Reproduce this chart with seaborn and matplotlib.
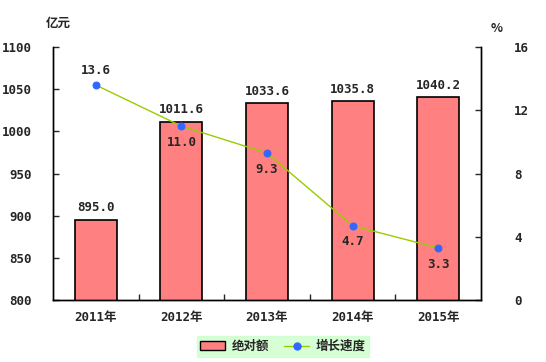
import numpy as np
import pandas as pd
import seaborn as sns
import matplotlib.pyplot as plt
from matplotlib.patches import Patch
from matplotlib.lines import Line2D

years = ['2011年', '2012年', '2013年', '2014年', '2015年']
amount = [895.0, 1011.6, 1033.6, 1035.8, 1040.2]
growth = [13.6, 11.0, 9.3, 4.7, 3.3]

sns.set_style('white')
# monospace digits like the original, CJK falls back to Noto
plt.rcParams['font.family'] = ['DejaVu Sans Mono', 'Noto Sans CJK SC']
plt.rcParams['font.weight'] = 'bold'

df = pd.DataFrame({'year': years, 'amount': amount, 'growth': growth})
pos = np.arange(len(years))

fig = plt.figure(figsize=(5.46, 3.62), dpi=100)
ax = fig.add_axes([0.097, 0.171, 0.784, 0.699])

sns.barplot(data=df, x='year', y='amount', color='#ff8080', width=0.49,
            edgecolor='black', linewidth=1.2, saturation=1, ax=ax)
ax.set_ylim(800, 1100)
ax.set_yticks(range(800, 1101, 50))
ax.set_xlim(-0.5, len(years) - 0.5)
ax.set_xlabel('')
ax.set_ylabel('')
for x, v in zip(pos, amount):
    ax.annotate(f'{v:.1f}', (x, v), xytext=(0, 4), textcoords='offset points',
                ha='center', va='bottom', fontsize=9, fontweight='bold')

ax2 = ax.twinx()
sns.lineplot(x=pos, y=growth, color='#99cc00', linewidth=1, marker='o',
             markersize=5, markerfacecolor='#3366ff', markeredgecolor='#3366ff',
             ax=ax2)
ax2.set_ylim(0, 16)
ax2.set_yticks(range(0, 17, 4))
for i, (x, v) in enumerate(zip(pos, growth)):
    dy = 6 if i == 0 else -7
    ax2.annotate(f'{v:.1f}', (x, v), xytext=(0, dy), textcoords='offset points',
                 ha='center', va='bottom' if i == 0 else 'top',
                 fontsize=9, fontweight='bold')

for a in (ax, ax2):
    a.spines['top'].set_visible(False)
    for s in ('left', 'right', 'bottom'):
        a.spines[s].set_color('black')
        a.spines[s].set_linewidth(1)
ax.spines['right'].set_visible(True)

ax.tick_params(axis='y', direction='in', length=4, width=1, labelsize=9, left=True, pad=15)
ax2.tick_params(axis='y', direction='in', length=4, width=1, labelsize=9, right=True, pad=24)
ax.set_xticks(pos)
ax.set_xticklabels(years, fontsize=9, fontweight='bold')
ax.tick_params(axis='x', length=0, pad=8)
ax.set_xticks(pos[:-1] + 0.5, minor=True)
ax.tick_params(axis='x', which='minor', direction='in', length=4, width=1, bottom=True)
for lab in ax.get_yticklabels() + ax2.get_yticklabels():
    lab.set_fontweight('bold')

fig.text(0.106, 0.935, '亿元', fontsize=9, fontweight='bold', ha='center', va='center')
fig.text(0.91, 0.922, '%', fontsize=9, fontweight='bold', ha='center', va='center',
         family=['Noto Sans CJK SC', 'DejaVu Sans'])

handles = [Patch(facecolor='#ff8080', edgecolor='black', linewidth=1),
           Line2D([0], [0], color='#99cc00', linewidth=1, marker='o', markersize=5,
                  markerfacecolor='#3366ff', markeredgecolor='#3366ff')]
leg = fig.legend(handles, ['绝对额', '增长速度'], loc='center', bbox_to_anchor=(0.518, 0.043),
                 ncol=2, frameon=True, fancybox=False, fontsize=9, handlelength=2,
                 columnspacing=1.2, borderpad=0.3, handletextpad=0.5)
leg.get_frame().set_facecolor('#ccffcc')
leg.get_frame().set_edgecolor('#ccffcc')

fig.savefig('out.png', dpi=100)
